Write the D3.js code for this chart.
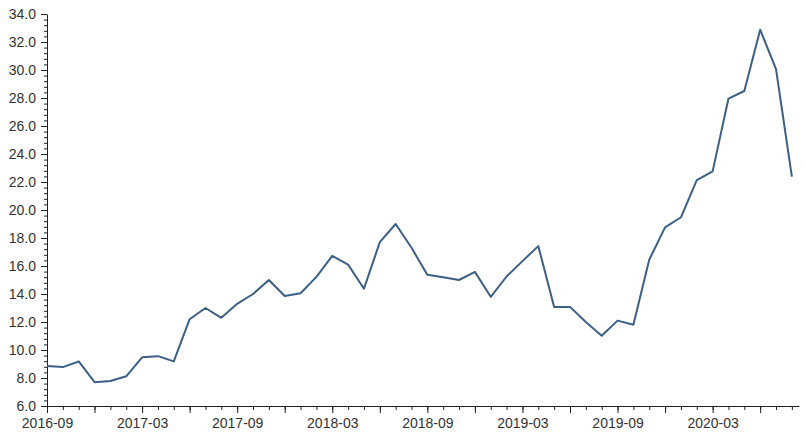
<!DOCTYPE html>
<html>
<head>
<meta charset="utf-8">
<script src="https://cdn.jsdelivr.net/npm/d3@7"></script>
<style>
  body { margin: 0; background: #fff; }
  .axis text { font-family: "Liberation Sans", Arial, sans-serif; font-size: 14px; fill: #333; }
  .axis path, .axis line { stroke: #222; }
</style>
</head>
<body>
<div id="chart"></div>
<script>
(function() {
  var months = [
    "2016-09","2016-10","2016-11","2016-12","2017-01","2017-02","2017-03","2017-04",
    "2017-05","2017-06","2017-07","2017-08","2017-09","2017-10","2017-11","2017-12",
    "2018-01","2018-02","2018-03","2018-04","2018-05","2018-06","2018-07","2018-08",
    "2018-09","2018-10","2018-11","2018-12","2019-01","2019-02","2019-03","2019-04",
    "2019-05","2019-06","2019-07","2019-08","2019-09","2019-10","2019-11","2019-12",
    "2020-01","2020-02","2020-03","2020-04","2020-05","2020-06","2020-07","2020-08"
  ];

  var values = [
    8.86, 8.78, 9.18, 7.70, 7.78, 8.12, 9.48, 9.56,
    9.19, 12.2, 13.0, 12.3, 13.3, 14.0, 15.0, 13.86,
    14.05, 15.22, 16.72, 16.1, 14.38, 17.7, 19.0, 17.3,
    15.38, 15.2, 15.0, 15.58, 13.8, 15.25, 16.35, 17.42,
    13.08, 13.08, 12.0, 11.02, 12.1, 11.8, 16.45, 18.76,
    19.48, 22.14, 22.76, 27.96, 28.5, 32.88, 30.06, 22.38
  ];

  var yTicks = [6, 8, 10, 12, 14, 16, 18, 20, 22, 24, 26, 28, 30, 32, 34];

  var margin = { top: 14, right: 7, bottom: 32, left: 47 },
      outerWidth = 806,
      outerHeight = 438,
      width = outerWidth - margin.left - margin.right,
      height = outerHeight - margin.top - margin.bottom;

  var svg = d3.select("#chart").append("svg")
      .attr("width", outerWidth)
      .attr("height", outerHeight);

  var g = svg.append("g")
      .attr("transform", "translate(" + margin.left + "," + margin.top + ")");

  var x = d3.scaleLinear()
      .domain([0, months.length - 1 + 0.45])
      .range([0, width]);

  var y = d3.scaleLinear()
      .domain([6, 34])
      .range([height, 0]);

  // minor ticks first
  g.append("g")
      .attr("class", "axis")
      .attr("transform", "translate(0," + height + ")")
      .call(d3.axisBottom(x).tickValues(d3.range(months.length)).tickSize(4).tickFormat(""))
      .call(s => s.select(".domain").remove());

  g.append("g")
      .attr("class", "axis")
      .call(d3.axisLeft(y).tickValues(d3.range(6, 34.01, 0.4)).tickSize(3).tickFormat(""))
      .call(s => s.select(".domain").remove());

  // major ticks every 3 months, labels every 6
  g.append("g")
      .attr("class", "axis")
      .attr("transform", "translate(0," + height + ")")
      .call(d3.axisBottom(x)
        .tickValues(d3.range(0, months.length, 3))
        .tickSize(7)
        .tickSizeOuter(0)
        .tickPadding(5)
        .tickFormat(i => i % 6 === 0 ? months[i] : ""));

  g.append("g")
      .attr("class", "axis")
      .call(d3.axisLeft(y)
        .tickValues(yTicks)
        .tickSize(6)
        .tickSizeOuter(0)
        .tickPadding(5)
        .tickFormat(d3.format(".1f")));

  var line = d3.line()
      .x((d, i) => x(i))
      .y(d => y(d));

  g.append("path")
      .datum(values)
      .attr("fill", "none")
      .attr("stroke", "#3c5f86")
      .attr("stroke-width", 2)
      .attr("stroke-linejoin", "round")
      .attr("d", line);
})();
</script>
</body>
</html>
